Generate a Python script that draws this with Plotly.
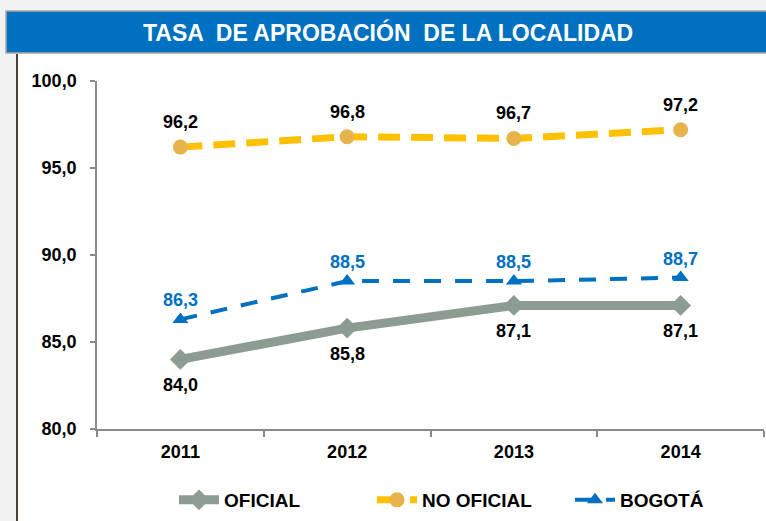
import plotly.graph_objects as go

# ---------------- data ----------------
years = ["2011", "2012", "2013", "2014"]
oficial = [84.0, 85.8, 87.1, 87.1]
no_oficial = [96.2, 96.8, 96.7, 97.2]
bogota = [86.3, 88.5, 88.5, 88.7]
series_names = ["OFICIAL", "NO OFICIAL", "BOGOTÁ"]
y_ticks = [80, 85, 90, 95, 100]
title_text = "TASA  DE APROBACIÓN  DE LA LOCALIDAD"

# ---------------- layout geometry (pixels) ----------------
W, H = 766, 521
L, R, T, B = 97, 2, 81, 92
PW, PH = W - L - R, H - T - B


def px_x(x):
    return (x - L) / PW


def px_y(y):
    return 1 - (y - T) / PH


FONT = "Liberation Sans, Arial, sans-serif"
GRAY = "#8d9c91"
YELLOW = "#ffc000"
YMARK = "#e7b44c"
BLUE = "#0070c0"
AXIS = "#8a8a8a"

fig = go.Figure()

fig.add_trace(go.Scatter(
    x=years, y=oficial, name=series_names[0], mode="lines+markers",
    line=dict(color=GRAY, width=9),
    marker=dict(symbol="diamond", size=16, color=GRAY),
))
fig.add_trace(go.Scatter(
    x=years, y=no_oficial, name=series_names[1], mode="lines+markers",
    line=dict(color=YELLOW, width=7, dash="22px,11px"),
    marker=dict(symbol="circle", size=15, color=YMARK),
))
fig.add_trace(go.Scatter(
    x=years, y=bogota, name=series_names[2], mode="lines+markers",
    line=dict(color=BLUE, width=4, dash="17px,14px"),
    marker=dict(symbol="triangle-up", size=14, color=BLUE),
))

# data labels (x given as category index so "2011" isn't read as an index)
for ys, shift, col in [
    (oficial, -26, "black"),
    (no_oficial, 25, "black"),
    (bogota, 19, BLUE),
]:
    for i, yv in enumerate(ys):
        fig.add_annotation(
            x=i, y=yv, xref="x", yref="y",
            text=f"<b>{yv:.1f}</b>".replace(".", ","),
            showarrow=False, yshift=shift,
            font=dict(family=FONT, size=18, color=col),
        )

shapes = [
    # white chart area
    dict(type="rect", xref="paper", yref="paper",
         x0=px_x(17), x1=px_x(770), y0=px_y(525), y1=px_y(54),
         fillcolor="white", line=dict(width=0), layer="below"),
    # left dark border
    dict(type="line", xref="paper", yref="paper",
         x0=px_x(17), x1=px_x(17), y0=px_y(525), y1=px_y(54),
         line=dict(color="#4a433c", width=2)),
    # title bar
    dict(type="rect", xref="paper", yref="paper",
         x0=px_x(6), x1=px_x(775), y0=px_y(53), y1=px_y(11),
         fillcolor=BLUE, line=dict(color="#a9a9a9", width=1.5)),
]

fig.add_annotation(
    x=px_x(388), y=px_y(32), xref="paper", yref="paper",
    text=f"<b>{title_text}</b>", showarrow=False,
    font=dict(family=FONT, size=23, color="white"),
    xanchor="center", yanchor="middle",
)

fig.update_layout(
    width=W, height=H,
    margin=dict(l=L, r=R, t=T, b=B, pad=0, autoexpand=False),
    paper_bgcolor="#f2f2f2",
    plot_bgcolor="white",
    separators=",.",
    shapes=shapes,
    font=dict(family=FONT, size=18, color="black"),
    showlegend=True,
    legend=dict(
        orientation="h", x=px_x(471), xanchor="center",
        y=px_y(500), yanchor="middle",
        font=dict(family=FONT, size=19, color="black", weight="bold"),
        bgcolor="rgba(0,0,0,0)", itemwidth=40,
        entrywidth=143, entrywidthmode="pixels",
        tracegroupgap=0,
    ),
    xaxis=dict(
        type="category", range=[-0.5, 3.5],
        showline=True, linecolor=AXIS, linewidth=1.5,
        ticks="outside", ticklen=6, tickcolor=AXIS, tickwidth=1.5,
        tickson="boundaries", showgrid=False, zeroline=False,
        tickfont=dict(family=FONT, size=18, color="black", weight="bold"),
        ticklabelstandoff=6, fixedrange=True,
    ),
    yaxis=dict(
        range=[80, 100], tickvals=y_ticks, tickformat=".1f",
        showline=True, linecolor=AXIS, linewidth=1.5,
        ticks="outside", ticklen=5, tickcolor=AXIS, tickwidth=1.5,
        showgrid=False, zeroline=False,
        tickfont=dict(family=FONT, size=18, color="black", weight="bold"),
        ticklabelstandoff=10, fixedrange=True,
    ),
)

fig.write_html(
    "out.html",
    config={"displayModeBar": False},
    post_script="document.body.style.margin='0';"
                "document.body.style.background='#f2f2f2';",
)
